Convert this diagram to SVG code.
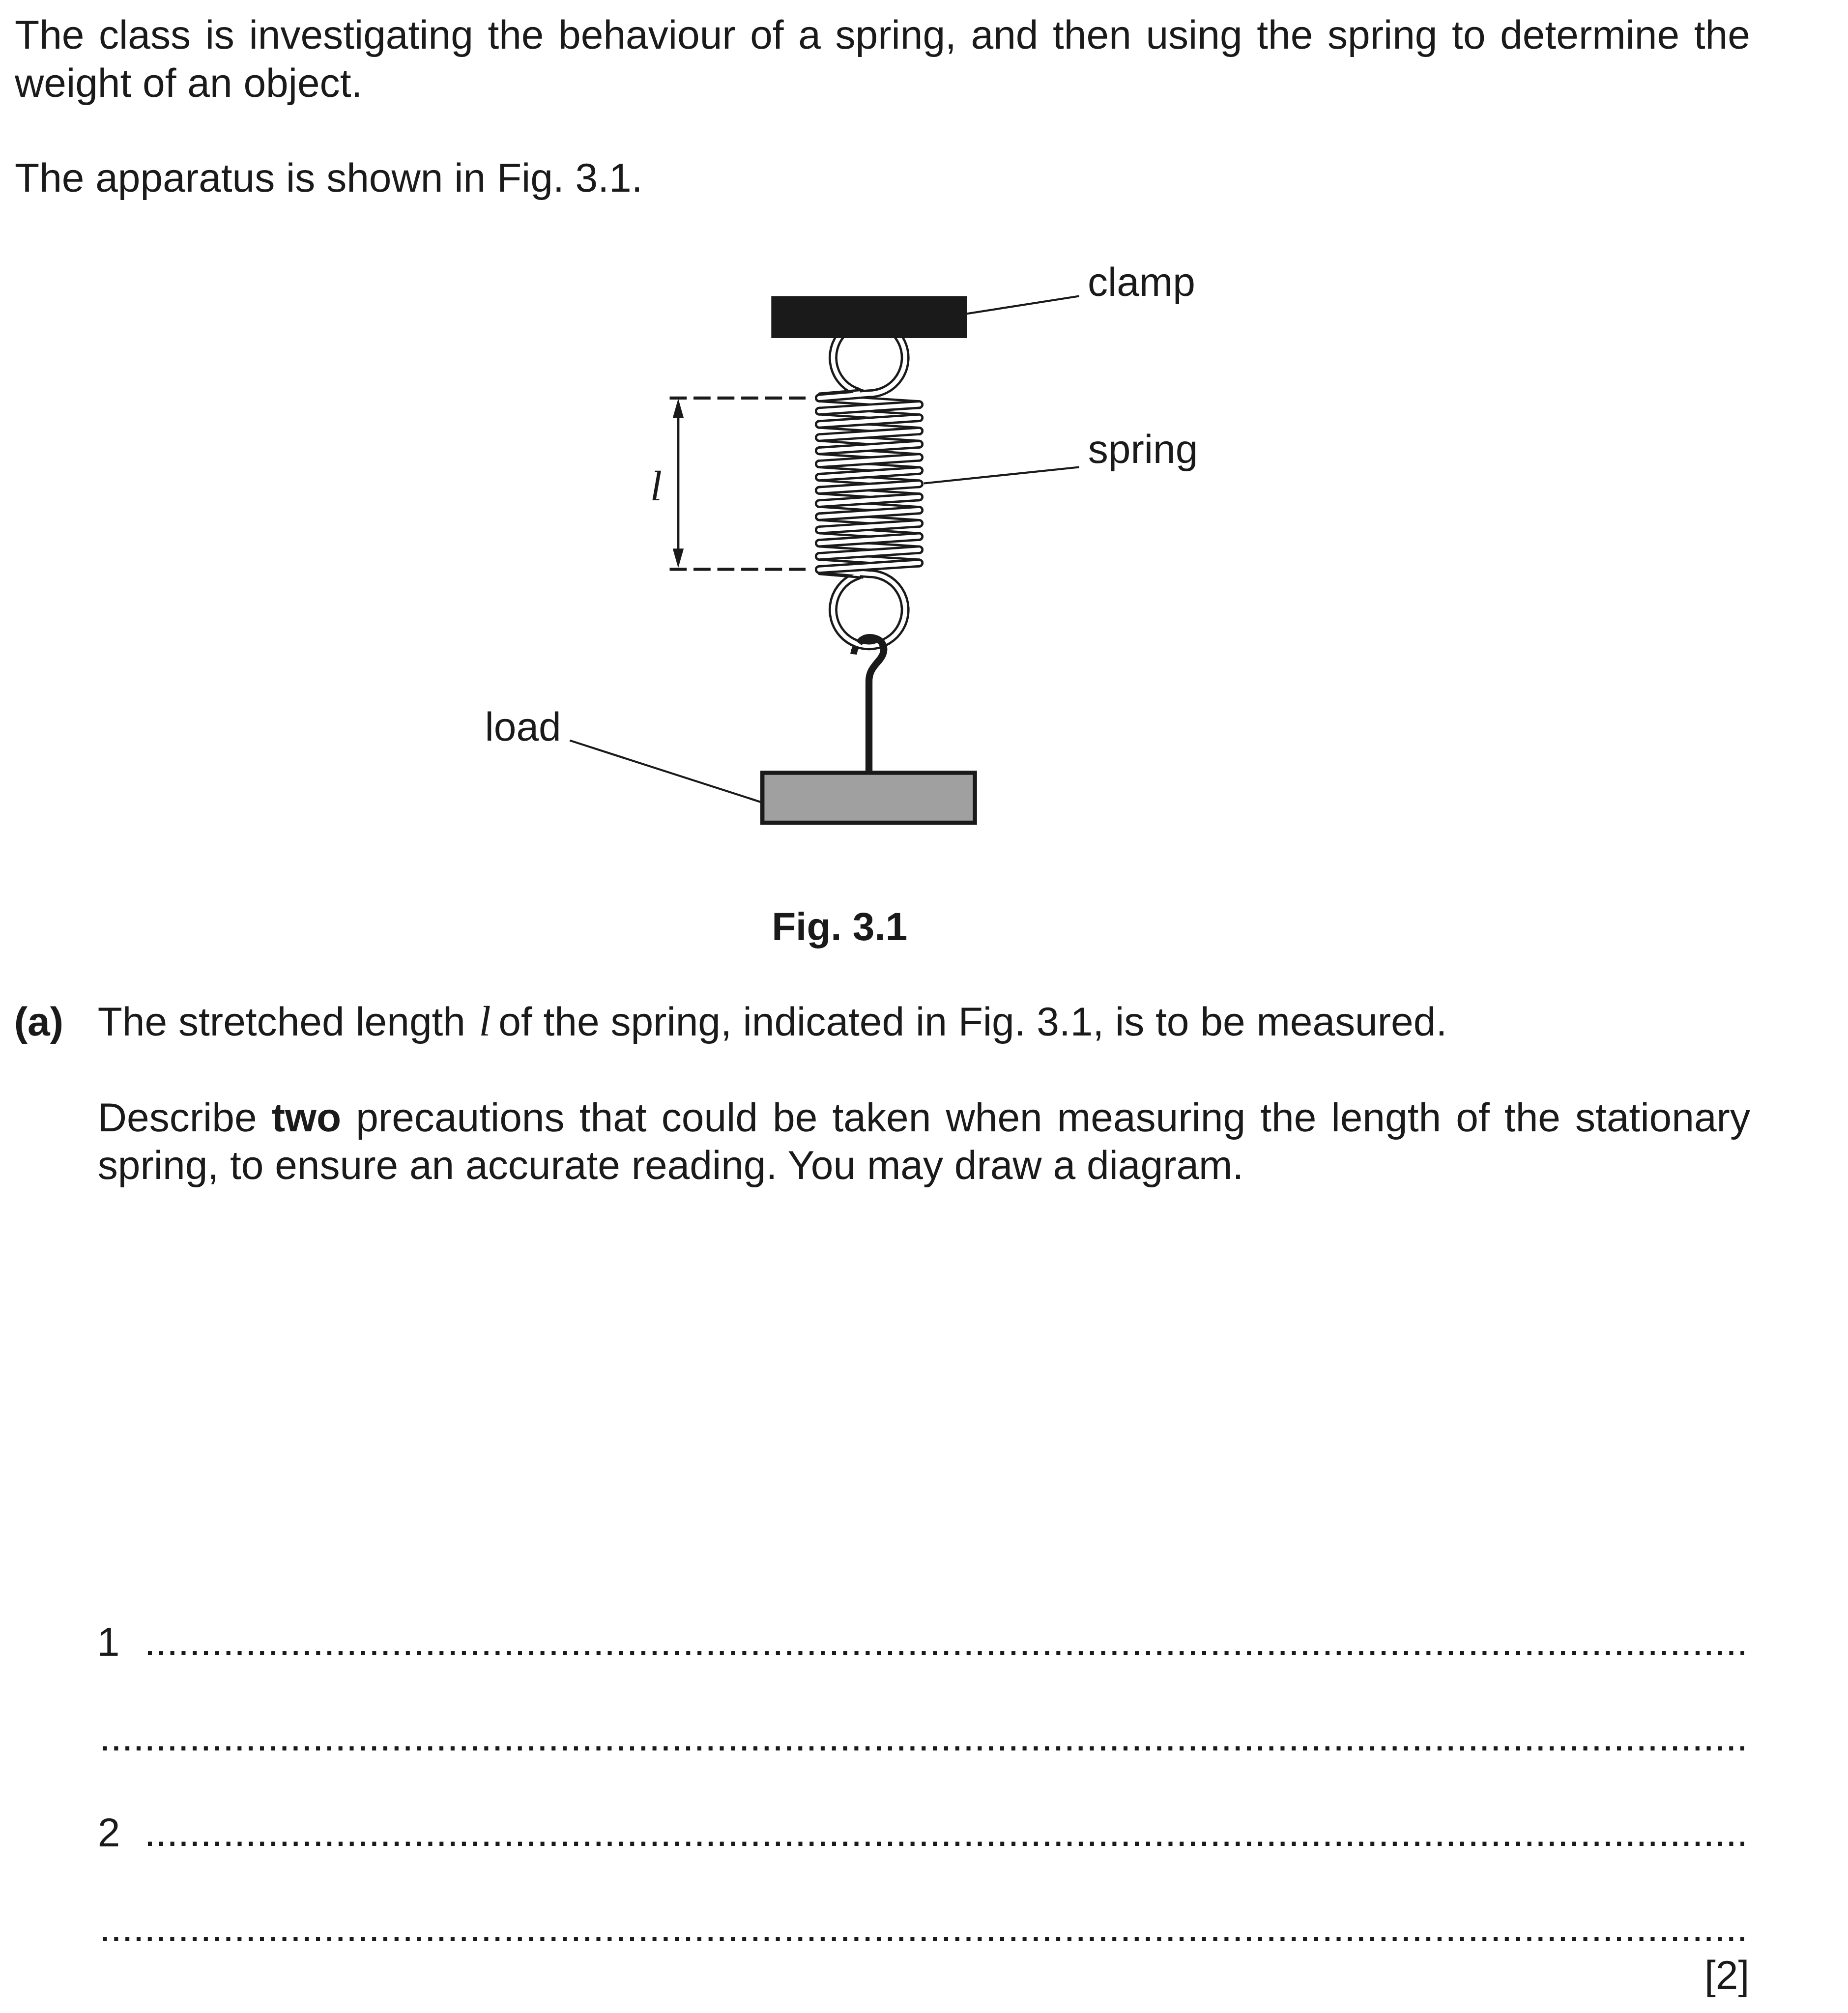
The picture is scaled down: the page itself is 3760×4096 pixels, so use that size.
<svg xmlns="http://www.w3.org/2000/svg" xmlns:xlink="http://www.w3.org/1999/xlink" width="3760" height="4096" viewBox="0 0 3760 4096">
<style>
text{font-family:"Liberation Sans",Arial,sans-serif;font-size:91.7px;fill:#1a1a1a;text-rendering:geometricPrecision}
.b{font-weight:bold}
.i{font-family:"Liberation Serif","Times New Roman",serif;font-style:italic;font-size:97px}
.td{fill:none;stroke:#1a1a1a;stroke-width:20;stroke-linecap:round}
.tw{fill:none;stroke:#fff;stroke-width:9.6;stroke-linecap:round}
.edge{fill:none;stroke:#1a1a1a;stroke-width:5.2;stroke-linecap:round}
.lead{fill:none;stroke:#1a1a1a;stroke-width:4.6}
.dash{fill:none;stroke:#1a1a1a;stroke-width:7;stroke-dasharray:38.8 15.4}
.dots{fill:none;stroke:#1a1a1a;stroke-width:9.3;stroke-dasharray:9 16.49}
.hook{fill:none;stroke:#1a1a1a;stroke-width:15}
</style>
<defs>
<marker id="ah" markerUnits="userSpaceOnUse" viewBox="0 0 44 25" markerWidth="44" markerHeight="25" refX="4" refY="12.5" orient="auto-start-reverse"><polygon points="0,0 44,12.5 0,25" fill="#1a1a1a"/></marker>
<path id="back" d="M1862 904.6L2089 919.6M1862 934.6L2089 949.6M1862 964.6L2089 979.6M1862 994.6L2089 1009.6M1862 1024.6L2089 1039.6M1862 1054.6L2089 1069.6M1862 1084.6L2089 1099.6M1862 1114.6L2089 1129.6M1862 1144.6L2089 1159.6M1862 1174.6L2089 1189.6M1862 1204.6L2089 1219.6M1862 1234.6L2089 1249.6M1862 1264.6L2089 1279.6"/>
<path id="front" d="M2089 919.6L1862 934.6M2089 949.6L1862 964.6M2089 979.6L1862 994.6M2089 1009.6L1862 1024.6M2089 1039.6L1862 1054.6M2089 1069.6L1862 1084.6M2089 1099.6L1862 1114.6M2089 1129.6L1862 1144.6M2089 1159.6L1862 1174.6M2089 1189.6L1862 1204.6M2089 1219.6L1862 1234.6M2089 1249.6L1862 1264.6M2089 1279.6L1862 1294.6"/>
<path id="ringT" d="M1862 904.6L1975.5 895A82 82 0 1 0 1950 891"/>
<path id="ringB" d="M1862 1294.6L1975 1304A82 82 0 1 1 1950 1308"/>
</defs>
<rect width="3760" height="4096" fill="#fff"/>
<g transform="scale(0.8952)">
<g id="body-text">
<text x="33.5" y="110.7" word-spacing="7.6">The class is investigating the behaviour of a spring, and then using the spring to determine the</text>
<text x="33.5" y="220">weight of an object.</text>
<text x="33.5" y="435.7">The apparatus is shown in Fig. 3.1.</text>
<text class="b" x="1754" y="2137" style="font-size:89.5px">Fig. 3.1</text>
<text class="b" x="32" y="2353.5">(a)</text>
<text x="222" y="2353.5">The stretched length</text>
<text class="i" x="1088.5" y="2353.5">l</text>
<text x="1133" y="2353.5">of the spring, indicated in Fig. 3.1, is to be measured.</text>
<text x="222" y="2571.6" word-spacing="8.2">Describe <tspan class="b">two</tspan> precautions that could be taken when measuring the length of the stationary</text>
<text x="222" y="2680">spring, to ensure an accurate reading. You may draw a diagram.</text>
<text x="221" y="3763.7">1</text>
<text x="222" y="4197">2</text>
<text x="3976" y="4520.7" text-anchor="end">[2]</text>
</g>
<g id="answer-lines">
<line class="dots" x1="336.2" y1="3757.3" x2="3964" y2="3757.3"/>
<line class="dots" x1="234" y1="3974" x2="3964" y2="3974"/>
<line class="dots" x1="336.2" y1="4191" x2="3964" y2="4191"/>
<line class="dots" x1="234" y1="4407.3" x2="3964" y2="4407.3"/>
</g>
<g id="hook-back"><path class="hook" d="M1955 1460Q1942 1470 1940 1487"/></g>
<g id="spring">
<use xlink:href="#back" class="td"/><use xlink:href="#back" class="tw"/>
<use xlink:href="#ringB" class="td"/><use xlink:href="#ringB" class="tw"/>
<use xlink:href="#ringT" class="td"/><use xlink:href="#ringT" class="tw"/>
<use xlink:href="#front" class="td"/><use xlink:href="#front" class="tw"/>
<path class="edge" d="M1862 894.6L1960 886.3"/>
<path class="edge" d="M1862 1304.6L1960 1312.8"/>
</g>
<g id="clamp"><rect x="1753" y="673" width="445" height="95.5" fill="#1a1a1a"/><text x="2472" y="672.9">clamp</text></g>
<g id="hook"><path class="hook" style="stroke-width:16" d="M1975 1752V1549C1975 1530 1982 1520 1992 1508C2006 1493 2011 1482 2008 1470C2005 1456 1992 1449 1976 1449C1966 1449 1958 1454 1952 1462"/><ellipse cx="1975" cy="1454" rx="24" ry="11" fill="#1a1a1a"/></g>
<g id="load"><rect x="1732.75" y="1756.5" width="483" height="113.5" fill="#a0a0a0" stroke="#1a1a1a" stroke-width="9.5"/><text x="1102" y="1683.6">load</text></g>
<g id="spring-label"><text x="2473" y="1052">spring</text></g>
<g id="length-l"><text class="i" x="1477.5" y="1136.7">l</text></g>
<g id="connectors">
<path class="lead" d="M2198 713L2452.7 673"/>
<path class="lead" d="M2100 1098.6L2452.7 1061.8"/>
<path class="lead" d="M1295 1683L1729 1823"/>
<path class="dash" d="M1522 904.6H1831"/>
<path class="dash" d="M1522 1294H1831"/>
<path fill="none" stroke="#1a1a1a" stroke-width="5.4" marker-start="url(#ah)" marker-end="url(#ah)" d="M1541.5 946V1251"/>
</g>
</g>
</svg>
